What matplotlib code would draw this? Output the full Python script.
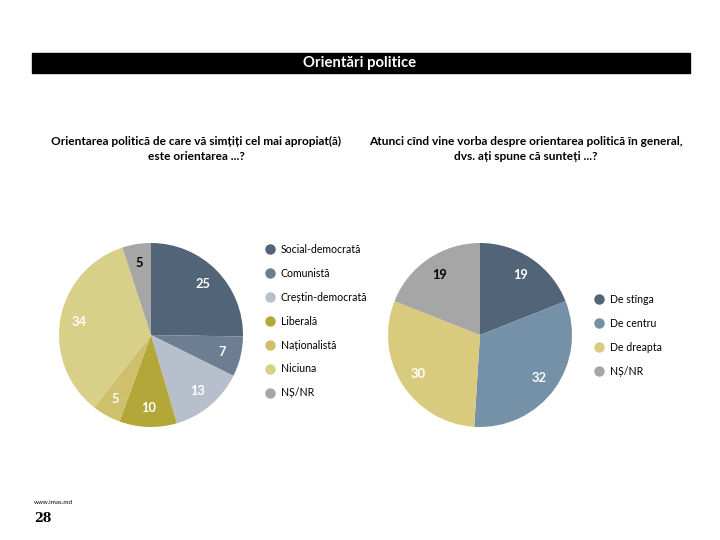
import matplotlib.pyplot as plt
from matplotlib.lines import Line2D
from matplotlib.patches import Rectangle

plt.rcParams['font.family'] = ['Lato', 'DejaVu Sans']

# left pie
parties = ['Social-democrată', 'Comunistă', 'Creștin-democrată', 'Liberală',
           'Naționalistă', 'Niciuna', 'NȘ/NR']
party_values = [25, 7, 13, 10, 5, 34, 5]
party_colors = ['#526477', '#6b7e92', '#b8bfcc', '#b4a739',
                '#cfc06c', '#d8cf89', '#a6a6a6']
party_text = ['white', 'white', 'white', 'white', 'white', 'white', 'black']

# right pie
sides = ['De stînga', 'De centru', 'De dreapta', 'NȘ/NR']
side_values = [19, 32, 30, 19]
side_colors = ['#526477', '#7491a8', '#d9cb7d', '#a6a6a6']
side_text = ['white', 'white', 'white', 'black']

title = 'Orientări politice'
q_left = 'Orientarea politică de care vă simțiți cel mai apropiat(ă)\neste orientarea ...?'
q_right = 'Atunci cînd vine vorba despre orientarea politică în general,\ndvs. ați spune că sunteți ...?'

fig = plt.figure(figsize=(7.2, 5.4), dpi=100)

# black title bar
fig.patches.append(Rectangle((32 / 720, 1 - 73 / 540), 658 / 720, 20 / 540,
                             transform=fig.transFigure, color='black', zorder=0))
fig.text(0.5, 1 - 63 / 540, title, color='white', fontsize=10.7,
         fontweight='bold', ha='center', va='center')

fig.text(196 / 720, 1 - 149 / 540, q_left, fontsize=8.6, fontweight='bold',
         ha='center', va='center', linespacing=1.45)
fig.text(526 / 720, 1 - 149 / 540, q_right, fontsize=8.6, fontweight='bold',
         ha='center', va='center', linespacing=1.45)


def draw_pie(left_px, values, colors, text_colors):
    ax = fig.add_axes([left_px / 720, 1 - 427 / 540, 184 / 720, 184 / 540])
    wedges, texts = ax.pie(values, colors=colors, startangle=90, counterclock=False,
                           labels=[str(v) for v in values], labeldistance=0.79,
                           textprops=dict(fontsize=9.3, fontweight='bold'))
    for t, c in zip(texts, text_colors):
        t.set_color(c)
        t.set_ha('center')
        t.set_va('center')
    ax.set_xlim(-1, 1)
    ax.set_ylim(-1, 1)
    ax.set_aspect('equal')
    return ax


draw_pie(59, party_values, party_colors, party_text)
draw_pie(388, side_values, side_colors, side_text)


def draw_legend(x_px, y_px, labels, colors):
    handles = [Line2D([], [], marker='o', linestyle='', markersize=6.5,
                      markerfacecolor=c, markeredgecolor=c) for c in colors]
    fig.legend(handles, labels, loc='upper left',
               bbox_to_anchor=(x_px / 720, 1 - y_px / 540), frameon=False,
               fontsize=7.6, handlelength=0.8, handletextpad=0.6,
               labelspacing=1.22, borderpad=0, borderaxespad=0)


draw_legend(266, 244, parties, party_colors)
draw_legend(595, 294, sides, side_colors)

fig.text(34 / 720, 1 - 503 / 540, 'www.imas.md', fontsize=4.5, va='center')
fig.text(34 / 720, 1 - 519 / 540, '28', fontsize=9, fontweight='bold',
         family='DejaVu Serif', va='center')

fig.savefig('out.png', dpi=100)
